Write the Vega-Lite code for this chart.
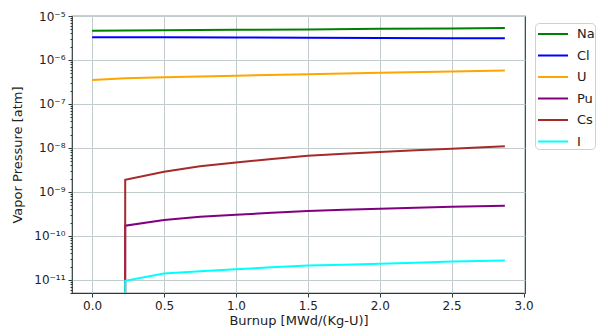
{
  "$schema": "https://vega.github.io/schema/vega-lite/v6.json",
  "width": 453,
  "height": 277,
  "autosize": "none",
  "padding": {"left": 72, "top": 16, "right": 80, "bottom": 39},
  "background": "white",
  "config": {
    "font": "DejaVu Sans",
    "view": {"stroke": "#2f3b3b", "strokeWidth": 1.2},
    "axis": {"domain": false, "labelFont": "DejaVu Sans", "titleFont": "DejaVu Sans", "labelFontSize": 12, "titleFontSize": 13, "titleFontWeight": "normal", "labelColor": "#222", "titleColor": "#222", "tickColor": "#2f3b3b", "gridColor": "#c3cccc", "gridWidth": 1, "gridOpacity": 1}
  },
  "data": {"values": [
    {"x": 0, "p": 4.6e-6, "s": "Na"}, {"x": 0.23, "p": 4.65e-6, "s": "Na"}, {"x": 0.5, "p": 4.75e-6, "s": "Na"}, {"x": 1.0, "p": 4.85e-6, "s": "Na"}, {"x": 1.5, "p": 4.95e-6, "s": "Na"}, {"x": 2.0, "p": 5.1e-6, "s": "Na"}, {"x": 2.5, "p": 5.2e-6, "s": "Na"}, {"x": 2.87, "p": 5.3e-6, "s": "Na"},
    {"x": 0, "p": 3.3e-6, "s": "Cl"}, {"x": 0.23, "p": 3.29e-6, "s": "Cl"}, {"x": 0.5, "p": 3.27e-6, "s": "Cl"}, {"x": 1.0, "p": 3.24e-6, "s": "Cl"}, {"x": 1.5, "p": 3.2e-6, "s": "Cl"}, {"x": 2.0, "p": 3.17e-6, "s": "Cl"}, {"x": 2.5, "p": 3.13e-6, "s": "Cl"}, {"x": 2.87, "p": 3.1e-6, "s": "Cl"},
    {"x": 0, "p": 3.5e-7, "s": "U"}, {"x": 0.23, "p": 3.85e-7, "s": "U"}, {"x": 0.5, "p": 4.05e-7, "s": "U"}, {"x": 1.0, "p": 4.4e-7, "s": "U"}, {"x": 1.5, "p": 4.75e-7, "s": "U"}, {"x": 2.0, "p": 5.1e-7, "s": "U"}, {"x": 2.5, "p": 5.45e-7, "s": "U"}, {"x": 2.87, "p": 5.75e-7, "s": "U"},
    {"x": 0.229, "p": 1e-14, "s": "Pu"}, {"x": 0.23, "p": 1.7e-10, "s": "Pu"}, {"x": 0.5, "p": 2.3e-10, "s": "Pu"}, {"x": 0.75, "p": 2.7e-10, "s": "Pu"}, {"x": 1.0, "p": 3.0e-10, "s": "Pu"}, {"x": 1.25, "p": 3.35e-10, "s": "Pu"}, {"x": 1.5, "p": 3.65e-10, "s": "Pu"}, {"x": 1.75, "p": 3.9e-10, "s": "Pu"}, {"x": 2.0, "p": 4.1e-10, "s": "Pu"}, {"x": 2.25, "p": 4.35e-10, "s": "Pu"}, {"x": 2.5, "p": 4.6e-10, "s": "Pu"}, {"x": 2.87, "p": 4.8e-10, "s": "Pu"},
    {"x": 0.229, "p": 1e-14, "s": "Cs"}, {"x": 0.23, "p": 1.87e-9, "s": "Cs"}, {"x": 0.5, "p": 2.85e-9, "s": "Cs"}, {"x": 0.75, "p": 3.8e-9, "s": "Cs"}, {"x": 1.0, "p": 4.65e-9, "s": "Cs"}, {"x": 1.25, "p": 5.6e-9, "s": "Cs"}, {"x": 1.5, "p": 6.6e-9, "s": "Cs"}, {"x": 1.75, "p": 7.4e-9, "s": "Cs"}, {"x": 2.0, "p": 8.1e-9, "s": "Cs"}, {"x": 2.25, "p": 8.8e-9, "s": "Cs"}, {"x": 2.5, "p": 9.5e-9, "s": "Cs"}, {"x": 2.87, "p": 1.09e-8, "s": "Cs"},
    {"x": 0.229, "p": 1e-14, "s": "I"}, {"x": 0.23, "p": 9.5e-12, "s": "I"}, {"x": 0.5, "p": 1.38e-11, "s": "I"}, {"x": 0.75, "p": 1.57e-11, "s": "I"}, {"x": 1.0, "p": 1.73e-11, "s": "I"}, {"x": 1.25, "p": 1.92e-11, "s": "I"}, {"x": 1.5, "p": 2.1e-11, "s": "I"}, {"x": 1.75, "p": 2.2e-11, "s": "I"}, {"x": 2.0, "p": 2.3e-11, "s": "I"}, {"x": 2.25, "p": 2.45e-11, "s": "I"}, {"x": 2.5, "p": 2.6e-11, "s": "I"}, {"x": 2.87, "p": 2.75e-11, "s": "I"}
  ]},
  "mark": {"type": "line", "clip": true, "strokeWidth": 2},
  "encoding": {
    "x": {
      "field": "x", "type": "quantitative",
      "scale": {"domain": [-0.14, 3.01], "nice": false, "zero": false},
      "axis": {"values": [0, 0.5, 1, 1.5, 2, 2.5, 3], "format": ".1f", "title": "Burnup [MWd/(Kg-U)]", "grid": true, "tickSize": 4, "labelPadding": 3, "titlePadding": 3}
    },
    "y": {
      "field": "p", "type": "quantitative",
      "scale": {"type": "log", "domain": [5e-12, 1e-5], "nice": false},
      "axis": {
        "title": "Vapor Pressure [atm]",
        "values": [5e-12, 6e-12, 7e-12, 8e-12, 9e-12, 1e-11, 2e-11, 3e-11, 4e-11, 5e-11, 6e-11, 7e-11, 8e-11, 9e-11, 1e-10, 2e-10, 3e-10, 4e-10, 5e-10, 6e-10, 7e-10, 8e-10, 9e-10, 1e-9, 2e-9, 3e-9, 4e-9, 5e-9, 6e-9, 7e-9, 8e-9, 9e-9, 1e-8, 2e-8, 3e-8, 4e-8, 5e-8, 6e-8, 7e-8, 8e-8, 9e-8, 1e-7, 2e-7, 3e-7, 4e-7, 5e-7, 6e-7, 7e-7, 8e-7, 9e-7, 1e-6, 2e-6, 3e-6, 4e-6, 5e-6, 6e-6, 7e-6, 8e-6, 9e-6, 1e-5],
        "labelExpr": "abs(log(datum.value)/LN10 - round(log(datum.value)/LN10)) > 0.001 ? '' : (round(log(datum.value)/LN10) == -5 ? '10⁻⁵' : round(log(datum.value)/LN10) == -6 ? '10⁻⁶' : round(log(datum.value)/LN10) == -7 ? '10⁻⁷' : round(log(datum.value)/LN10) == -8 ? '10⁻⁸' : round(log(datum.value)/LN10) == -9 ? '10⁻⁹' : round(log(datum.value)/LN10) == -10 ? '10⁻¹⁰' : '10⁻¹¹')",
        "tickSize": {"condition": {"test": "abs(log(datum.value)/LN10 - round(log(datum.value)/LN10)) > 0.001", "value": 2}, "value": 4},
        "gridOpacity": {"condition": {"test": "abs(log(datum.value)/LN10 - round(log(datum.value)/LN10)) > 0.001", "value": 0}, "value": 1},
        "labelPadding": 3,
        "titlePadding": 9,
        "labelOverlap": false,
        "labelBound": false,
        "labelFlush": false
      }
    },
    "color": {
      "field": "s", "type": "nominal", "sort": ["Na", "Cl", "U", "Pu", "Cs", "I"],
      "scale": {"domain": ["Na", "Cl", "U", "Pu", "Cs", "I"], "range": ["#008000", "#0000ff", "#ffa500", "#800080", "#a52a2a", "#00ffff"]},
      "legend": {
        "title": null, "orient": "none", "legendX": 463, "legendY": 7,
        "symbolType": "M-1.5,0H1.5", "symbolSize": 400, "symbolStrokeWidth": 2,
        "labelFontSize": 13, "labelFont": "DejaVu Sans", "labelColor": "#222",
        "strokeColor": "#d0d0d0", "cornerRadius": 4, "padding": 0, "rowPadding": 3.5, "symbolOffset": 7, "labelOffset": 13,
        "fillColor": "white"
      }
    }
  }
}
